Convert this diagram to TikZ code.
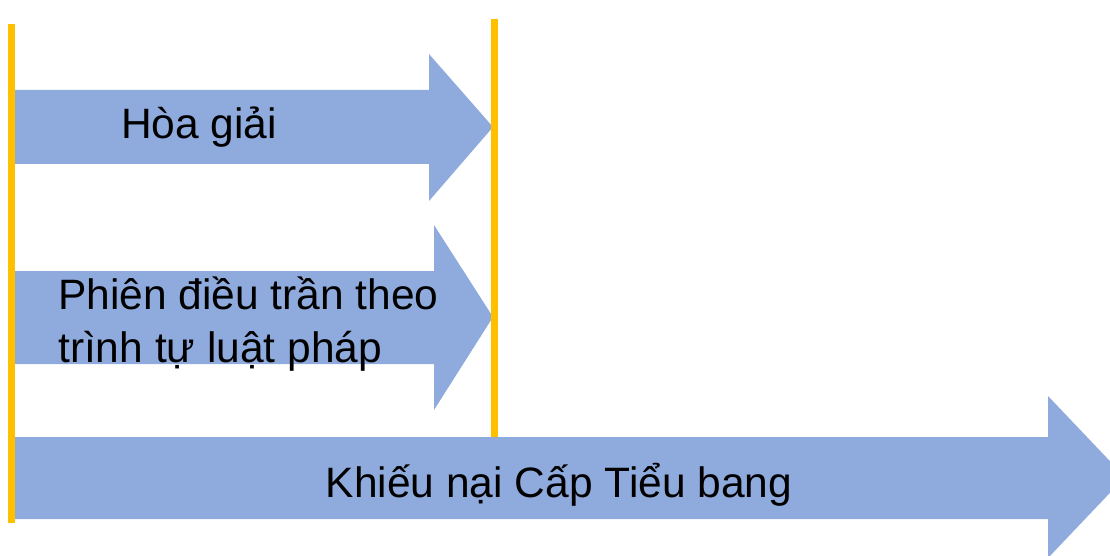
\documentclass[tikz,border=0pt]{standalone}
\usepackage{fontspec}
\setmainfont{Liberation Sans}

\begin{document}
\begin{tikzpicture}[x=1pt, y=-1pt,
    bluearrow/.style={fill={rgb,255:red,143;green,170;blue,220}, draw=none},
    yellowbar/.style={draw={rgb,255:red,255;green,192;blue,0}, line width=7pt},
    label/.style={inner sep=0pt, font=\fontsize{42.5}{53}\selectfont, align=left}]
    % Page size
    \useasboundingbox (0,0) rectangle (1110,556);
    \clip (0,0) rectangle (1110,556);
    % Arrows
    \fill[bluearrow] (12,90) -- (429,90) -- (429,54) -- (493,127) -- (429,201) -- (429,164) -- (12,164) -- cycle;
    \fill[bluearrow] (12,271) -- (434,271) -- (434,225) -- (493,317) -- (434,410) -- (434,364) -- (12,364) -- cycle;
    % Bars
    \draw[yellowbar] (11.5,24) -- (11.5,523);
    \draw[yellowbar] (494,19) -- (494,437);
    % Long arrow on top
    \fill[bluearrow] (15,437) -- (1048,437) -- (1048,396) -- (1125,477) -- (1048,558) -- (1048,519) -- (15,519) -- cycle;
    % Labels
    \node[label, anchor=base west] (mediation) at (121,139) {Hòa giải};
    \node[label, anchor=base west] (hearing) at (58,362) {Phiên điều trần theo\\trình tự luật pháp};
    \node[label, anchor=base] (appeal) at (559,497) {Khiếu nại Cấp Tiểu bang};
\end{tikzpicture}
\end{document}
